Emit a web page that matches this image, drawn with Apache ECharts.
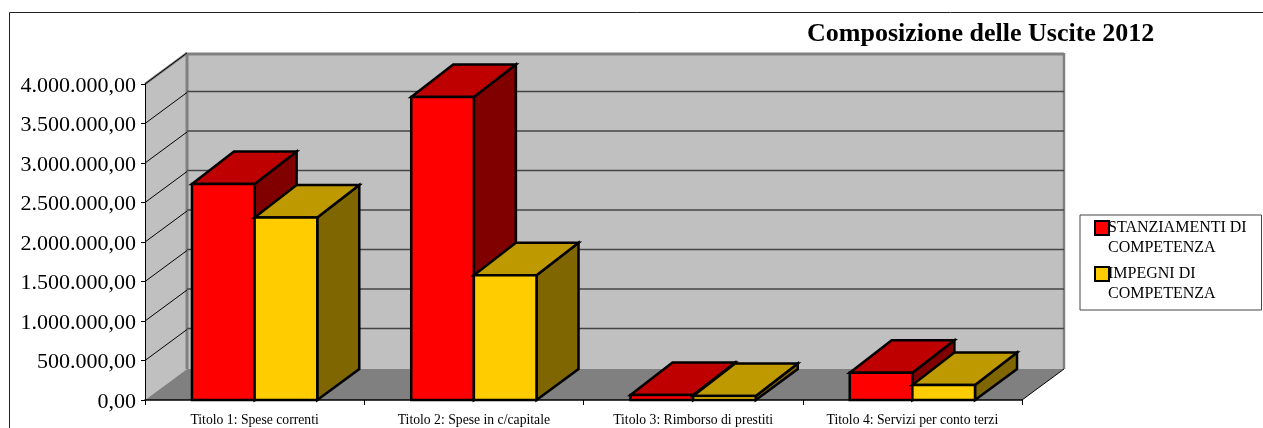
<!DOCTYPE html>
<html><head><meta charset="utf-8">
<style>html,body{margin:0;padding:0;background:#fff}#c{width:1263px;height:428px}</style>
<script src="https://cdn.jsdelivr.net/npm/echarts@6/dist/echarts.min.js"></script>
</head><body><div id="c"></div>
<script>
const categories = ['Titolo 1: Spese correnti','Titolo 2: Spese in c/capitale','Titolo 3: Rimborso di prestiti','Titolo 4: Servizi per conto terzi'];
const stanziamenti = [2735000, 3835000, 63000, 345000];
const impegni = [2310000, 1580000, 50000, 190000];
const yTicks = [500000,1000000,1500000,2000000,2500000,3000000,3500000,4000000];
const seriesNames = ['STANZIAMENTI DI\nCOMPETENZA','IMPEGNI DI\nCOMPETENZA'];
const titleText = 'Composizione delle Uscite 2012';

const DX = 42, DY = -31, TOP_DY = -32.5, GAP = 1.5;
const FONT = '"Liberation Serif"';
const fmt = v => String(Math.round(v)).replace(/\B(?=(\d{3})+$)/g,'.') + ',00';

function poly(points, fill, stroke, lw){
  return {type:'polygon', shape:{points}, style:{fill, stroke:stroke||'none', lineWidth:lw||0, lineJoin:'miter'}};
}
function line(x1,y1,x2,y2,stroke,lw){
  return {type:'line', shape:{x1,y1,x2,y2}, style:{stroke, lineWidth:lw}};
}
function barRender(pos, front, top, side){
  return function(params, api){
    const idx = api.value(0), val = api.value(1);
    const p = api.coord([idx, val]), b = api.coord([idx, 0]);
    const bw = api.size([1,0])[0] / (2 + GAP);
    const x0 = p[0] + pos * bw, x1 = x0 + bw, yt = p[1], yb = b[1];
    const S = '#000', W = 2.5;
    return {type:'group', children:[
      poly([[x1,yb],[x1+DX,yb+DY],[x1+DX,yt+TOP_DY],[x1,yt]], side, S, W),
      poly([[x0,yt],[x0+DX,yt+TOP_DY],[x1+DX,yt+TOP_DY],[x1,yt]], top, S, W),
      poly([[x0,yb],[x1,yb],[x1,yt],[x0,yt]], front, S, W)
    ]};
  };
}
function wallRender(params){
  const c = params.coordSys, L = c.x, R = c.x + c.width, T = c.y, B = c.y + c.height;
  return {type:'group', children:[
    poly([[L,B],[L,T],[L+DX,T+DY],[L+DX,B+DY]], '#C0C0C0'),
    poly([[L+DX,T+DY],[R+DX,T+DY],[R+DX,B+DY],[L+DX,B+DY]], '#C0C0C0'),
    poly([[L,B],[L+DX,B+DY],[R+DX,B+DY],[R,B]], '#808080'),
    line(L,T,L+DX,T+DY,'#808080',2.5),
    line(L+DX,T+DY,L+DX,B+DY,'#808080',3),
    line(L+DX,T+DY+1,R+DX,T+DY+1,'#808080',3),
    line(R+DX,T+DY,R+DX,B+DY,'#808080',2.5),
    line(R,B,R+DX,B+DY,'#000',1)
  ]};
}
function gridRender(params, api){
  const c = params.coordSys, y = api.coord([0, api.value(0)])[1];
  const kids = [line(c.x,y,c.x+DX,y+DY,'#000',1)];
  if (api.value(0) < 4000000) kids.push(line(c.x+DX,y+DY-1,c.x+c.width+DX,y+DY-1,'#444',1.5));
  return {type:'group', children:kids};
}
const chart = echarts.init(document.getElementById('c'), null, {renderer:'canvas'});
chart.setOption({
  animation:false,
  backgroundColor:'#fff',
  title:{text:titleText, left:807, top:21, padding:0, textStyle:{fontFamily:FONT, fontWeight:'bold', fontSize:26, color:'#000'}},
  graphic:[
    {type:'rect', z:-1, shape:{x:9.5,y:12.5,width:1300,height:450}, style:{fill:'#fff',stroke:'#222',lineWidth:1}},
    {type:'rect', z:0, shape:{x:1080,y:215,width:181.5,height:95}, style:{fill:'#fff',stroke:'#444',lineWidth:1}}
  ],
  legend:{
    left:1094, top:198, orient:'vertical', selectedMode:false, z:6,
    data:seriesNames, icon:'rect', itemWidth:14, itemHeight:14, itemGap:-14, padding:0,
    itemStyle:{borderColor:'#000', borderWidth:2},
    formatter:n => '\n' + n,
    textStyle:{fontFamily:FONT, fontSize:16, color:'#000', lineHeight:20, padding:[0,0,0,-6]}
  },
  grid:{left:145, top:84, width:877, height:316, containLabel:false},
  xAxis:{type:'category', data:categories, z:5,
    axisLine:{lineStyle:{color:'#000',width:1.5}}, axisTick:{show:true,length:5,lineStyle:{color:'#000'}},
    axisLabel:{fontFamily:FONT,fontSize:13.7,color:'#000',margin:13,interval:0}, splitLine:{show:false}},
  yAxis:{type:'value', min:0, max:4000000, interval:500000, z:5,
    axisLine:{show:true,lineStyle:{color:'#000',width:1}}, axisTick:{show:true,length:4,lineStyle:{color:'#000'}},
    axisLabel:{fontFamily:FONT,fontSize:22,color:'#000',margin:9,formatter:fmt,verticalAlign:'top',lineHeight:22,padding:[-9,0,0,0]}, splitLine:{show:false}},
  series:[
    {type:'custom', name:'wall', silent:true, z:1, data:[[0]], renderItem:wallRender, clip:false},
    {type:'custom', name:'gridlines', silent:true, z:1.5, data:yTicks.map(v=>[v]), renderItem:gridRender, clip:false},
    {type:'custom', name:seriesNames[0], z:3, itemStyle:{color:'#FF0000'}, clip:false,
      data:stanziamenti.map((v,i)=>[i,v]), encode:{x:0,y:1}, renderItem:barRender(-1,'#FF0000','#BF0000','#800000')},
    {type:'custom', name:seriesNames[1], z:3.5, itemStyle:{color:'#FFCC00'}, clip:false,
      data:impegni.map((v,i)=>[i,v]), encode:{x:0,y:1}, renderItem:barRender(0,'#FFCC00','#BF9900','#806600')}
  ]
});
</script></body></html>
